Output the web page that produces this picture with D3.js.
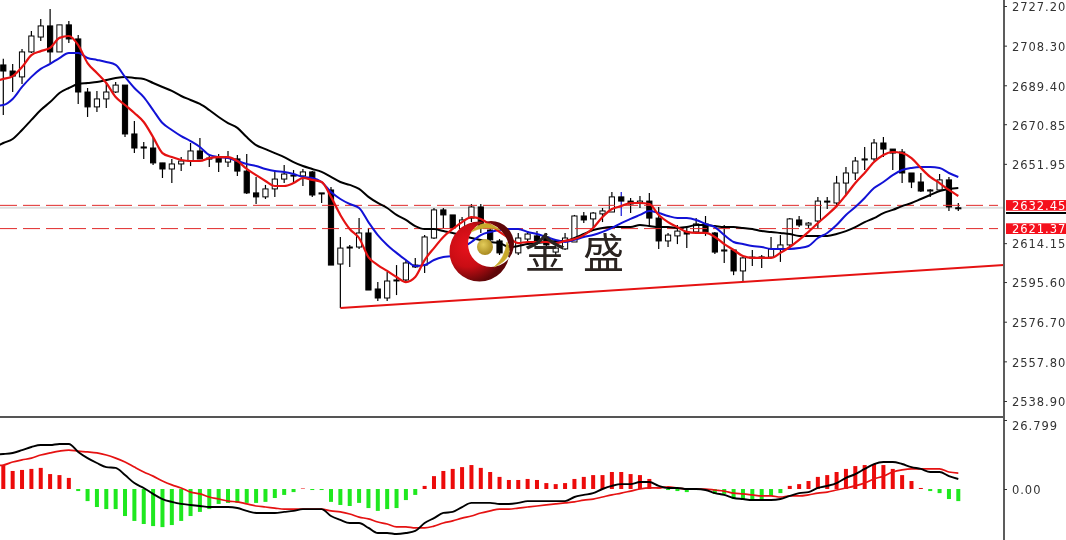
<!DOCTYPE html>
<html><head><meta charset="utf-8">
<style>html,body{margin:0;padding:0;background:#fff;overflow:hidden}svg{display:block;filter:blur(0.3px)}text{font-family:"DejaVu Sans",sans-serif}</style>
<script src="https://cdnjs.cloudflare.com/ajax/libs/d3/7.8.5/d3.min.js"></script>
</head><body><svg id="c" width="1066" height="540"></svg>
<script>
const opens=[2699.1,2696.2,2693.4,2705.3,2712.4,2717.7,2705.3,2718.2,2711.5,2686.2,
2679.1,2682.9,2686.2,2689.5,2666.2,2660.0,2659.5,2652.4,2649.5,2651.9,
2653.3,2658.1,2654.7,2654.7,2652.8,2654.3,2648.5,2638.1,2636.2,2640.0,
2644.7,2646.6,2646.2,2648.1,2638.1,2639.5,2604.2,2611.9,2612.3,2619.0,
2592.3,2588.0,2596.3,2596.6,2603.7,2603.7,2616.6,2630.0,2627.6,2620.9,
2626.1,2631.4,2620.4,2615.2,2609.5,2609.5,2616.1,2617.6,2617.1,2609.9,
2611.4,2614.7,2627.1,2625.7,2628.1,2629.0,2636.2,2634.2,2633.3,2634.2,
2626.1,2615.2,2617.6,2619.5,2619.5,2623.3,2619.0,2610.4,2610.9,2600.9,
2607.1,2607.3,2607.5,2611.4,2613.3,2625.2,2622.8,2624.7,2634.2,2633.3,
2642.8,2647.6,2653.8,2654.3,2661.9,2659.0,2657.6,2647.6,2643.3,2639.0,
2639.5,2644.3,2631.0];
const closes=[2696.2,2693.8,2705.3,2712.9,2717.7,2705.3,2718.2,2711.5,2686.2,2679.1,
2682.9,2686.2,2689.5,2666.2,2659.5,2659.5,2652.4,2649.5,2651.9,2653.3,
2658.1,2654.3,2654.3,2652.8,2654.7,2648.5,2638.1,2636.2,2640.0,2644.7,
2647.1,2646.2,2648.1,2637.1,2637.6,2603.7,2611.8,2612.3,2619.0,2591.8,
2588.0,2596.1,2596.6,2604.7,2602.8,2617.1,2630.0,2627.6,2621.4,2625.2,
2631.4,2621.4,2615.7,2609.5,2610.9,2616.6,2618.5,2615.2,2613.3,2611.8,
2616.6,2627.1,2625.2,2628.5,2629.5,2636.2,2634.2,2632.8,2634.2,2626.1,
2615.2,2618.0,2619.9,2618.5,2623.3,2619.5,2609.9,2610.9,2600.9,2607.1,
2607.5,2607.6,2611.4,2613.3,2625.7,2622.8,2623.7,2634.2,2633.8,2642.8,
2647.6,2653.3,2654.3,2661.9,2659.0,2657.1,2647.6,2643.3,2639.0,2639.5,
2644.3,2631.4,2630.7];
const highs=[2702.0,2699.6,2706.7,2715.3,2721.0,2725.8,2718.2,2720.0,2713.4,2688.1,
2686.7,2690.5,2691.0,2689.5,2672.4,2662.4,2664.7,2652.4,2654.3,2655.2,
2661.9,2664.3,2656.2,2656.7,2658.1,2656.2,2656.7,2645.7,2641.9,2648.1,
2651.4,2649.0,2649.5,2648.5,2638.1,2640.9,2617.1,2613.3,2626.1,2621.4,
2595.6,2600.4,2603.7,2606.1,2607.1,2618.0,2630.9,2630.9,2627.6,2626.6,
2632.8,2632.8,2621.4,2616.1,2613.3,2619.0,2619.9,2619.9,2619.0,2613.3,
2619.0,2627.6,2629.0,2629.0,2630.9,2638.5,2638.5,2635.7,2636.6,2638.1,
2631.4,2619.0,2622.8,2621.8,2626.1,2627.1,2619.5,2622.8,2611.4,2607.5,
2610.9,2608.5,2617.1,2618.0,2626.1,2627.1,2624.2,2636.2,2636.2,2646.2,
2650.4,2655.2,2660.0,2663.8,2664.7,2659.0,2659.0,2647.6,2647.6,2640.0,
2647.1,2645.7,2633.3];
const lows=[2675.2,2686.2,2690.0,2704.8,2710.5,2700.0,2705.3,2709.6,2680.5,2674.3,
2676.7,2678.6,2685.7,2664.7,2657.1,2654.3,2651.4,2645.2,2642.8,2648.5,
2650.9,2654.3,2650.4,2648.1,2650.4,2646.2,2637.6,2632.8,2635.2,2636.2,
2642.8,2642.8,2641.4,2636.2,2633.3,2603.7,2583.2,2602.8,2611.4,2591.8,
2586.6,2586.6,2589.4,2595.6,2602.3,2599.9,2616.1,2621.4,2621.4,2617.1,
2624.2,2619.0,2614.2,2608.5,2607.5,2608.5,2614.2,2613.3,2611.4,2608.0,
2610.9,2614.7,2623.7,2621.4,2624.2,2629.0,2627.1,2628.5,2630.9,2621.8,
2611.4,2612.3,2613.7,2611.8,2619.0,2617.6,2609.0,2604.7,2598.9,2595.6,
2603.2,2602.3,2607.1,2605.2,2612.3,2621.8,2621.4,2621.4,2630.4,2631.4,
2637.1,2644.3,2649.0,2653.3,2655.2,2649.0,2642.8,2640.4,2638.5,2636.2,
2638.5,2629.5,2629.5];
// Moving averages: the first value belongs to the bar just off the left edge.
const maFast=[2691.4,2692.4,2693.8,2698.1,2703.8,2705.7,2707.2,2712.0,2712.9,2708.6,2700.0,2695.3,2690.5,2683.8,2680.0,2676.2,2671.9,2664.7,2657.1,2655.2,2653.8,2653.3,2653.3,2654.7,2655.2,2655.2,2653.3,2649.5,2646.6,2643.8,2641.4,2641.4,2642.8,2645.2,2644.3,2643.3,2636.2,
2627.6,2620.9,2616.6,2607.5,2603.7,2600.9,2598.0,2595.6,2598.0,2606.1,2611.8,2617.1,2620.9,2624.2,2626.6,2625.7,2622.8,2619.5,2616.6,2614.2,2614.7,2614.7,2614.7,2614.2,2615.2,2616.1,2618.0,2621.4,2626.6,2630.4,2631.8,2633.3,
2633.3,2632.8,2627.6,2624.2,2621.8,2619.5,2619.0,2619.0,2617.1,2613.7,2610.9,2608.0,2607.1,2607.1,2607.1,2609.5,2612.3,2615.7,2619.5,2623.7,2627.6,2631.8,2637.1,2642.8,2647.6,2652.8,2656.2,2657.6,2657.1,2654.7,2650.0,2645.7,2642.8,2639.5,2636.6];
const maMid=[2679.5,2680.0,2682.9,2688.6,2693.4,2697.2,2699.6,2702.4,2704.8,2704.8,2702.4,2701.5,2700.5,2699.1,2693.4,2688.1,2683.8,2677.6,2671.4,2668.1,2665.2,2662.8,2660.0,2656.2,2655.2,2654.7,2653.3,2651.9,2650.9,2649.5,2648.5,2648.1,2647.1,2645.7,2645.2,2643.3,2638.5,
2635.2,2632.8,2630.9,2624.2,2618.0,2613.3,2609.5,2606.1,2603.2,2603.7,2606.1,2607.5,2608.0,2611.8,2614.7,2618.0,2619.5,2620.4,2620.9,2620.9,2619.5,2618.5,2617.1,2615.7,2614.7,2615.7,2617.1,2618.0,2619.5,2621.4,2623.7,2625.7,2627.6,2629.5,2628.5,2627.1,2626.1,2626.1,2625.2,2623.3,2621.8,2618.0,2614.7,2613.7,2612.8,2612.3,2611.4,2611.4,2611.4,2611.8,2612.8,2616.6,2619.0,2622.8,2627.6,2631.4,2635.7,2640.4,2643.3,2646.6,2649.0,2650.0,2650.4,2650.4,2650.0,2647.6,2645.7];
const maSlow=[2659.5,2661.9,2663.8,2668.1,2672.9,2677.6,2681.4,2685.7,2688.1,2690.0,2690.5,2691.0,2691.9,2692.9,2693.4,2692.9,2692.4,2690.5,2688.6,2686.7,2684.3,2682.4,2680.5,2677.6,2674.3,2671.4,2669.1,2664.7,2660.9,2659.0,2657.1,2655.2,2652.8,2650.9,2649.5,2648.1,2645.7,
2643.3,2641.9,2640.0,2636.2,2633.3,2630.9,2627.6,2625.2,2622.3,2620.9,2620.9,2619.9,2619.0,2618.0,2616.6,2615.7,2614.7,2614.2,2612.3,2612.8,2613.7,2614.2,2614.7,2615.2,2615.2,2616.6,2618.5,2620.4,2621.4,2621.8,2621.8,2621.8,2622.8,2622.3,2621.8,2621.8,2621.4,2621.8,2622.8,2622.8,2622.3,2621.8,2621.8,2621.4,2620.9,2619.9,2619.5,2619.0,2618.5,2617.6,2617.6,2617.6,2617.6,2618.5,2619.9,2621.8,2624.2,2626.1,2628.5,2630.0,2631.8,2633.3,2635.2,2637.1,2639.0,2640.0,2640.4];
const macdHist=[9.3,7.0,7.4,7.8,8.2,5.8,5.4,4.3,-0.8,-4.7,-7.0,-7.8,-7.8,-10.5,-12.4,-13.6,-14.4,-14.8,-14.0,-12.4,-10.5,-8.9,-7.8,-5.8,-5.4,-5.4,-5.4,-5.4,-5.0,-3.5,-2.3,-1.2,0.2,-0.4,-0.4,-5.0,-6.2,-6.6,-5.4,-7.4,-8.5,-7.8,-7.4,
-4.3,-2.3,1.2,5.0,7.0,7.8,8.5,9.3,8.2,6.6,4.7,3.5,3.5,3.9,3.5,2.3,1.9,2.3,3.9,4.7,5.4,5.4,6.6,6.6,5.8,5.4,3.9,
0.2,-0.4,-0.8,-1.2,-0.4,-0.4,-1.9,-1.9,-3.9,-3.9,-3.9,-3.9,-2.7,-1.6,1.2,1.9,3.1,4.7,5.4,6.6,7.8,8.9,9.3,9.7,9.3,7.8,5.4,3.1,0.4,-0.8,-1.6,-3.9,-4.7];
const macdLine=[13.4,13.6,14.0,15.1,16.3,17.1,17.1,17.5,17.5,14.4,12.0,10.1,8.5,8.2,5.4,2.3,0.4,-1.9,-3.9,-5.0,-5.8,-6.2,-6.6,-7.0,-7.0,-7.0,-7.4,-8.5,-9.3,-9.3,-9.3,-8.9,-8.5,-7.8,-7.8,-7.8,-10.5,-12.0,-13.2,-13.2,-15.1,-17.1,-17.1,-17.5,
-17.1,-16.3,-13.2,-11.3,-9.3,-8.9,-7.0,-5.4,-5.4,-5.4,-5.8,-5.8,-5.4,-4.7,-4.7,-4.7,-4.7,-4.7,-3.1,-2.3,-1.6,0,1.2,1.9,1.9,2.7,2.7,1.2,0.4,0.4,0,0,-0.4,-1.6,-2.3,-3.5,-3.9,-4.3,-4.3,-4.3,-3.9,-2.7,-1.6,-1.2,0.4,1.2,2.3,4.3,5.8,7.8,9.7,10.5,10.5,9.7,8.5,7.8,6.6,6.6,5.0,3.9];
const macdSignal=[9.0,9.3,10.5,11.3,12.0,13.2,14.0,14.7,15.1,14.7,14.4,14.0,13.2,12.0,10.5,8.5,6.6,5.0,3.1,1.6,0.4,-1.2,-1.9,-3.1,-3.9,-4.7,-5.0,-5.8,-6.6,-7.0,-7.4,-7.8,-7.8,-7.8,-7.8,-7.8,-8.5,-8.9,-9.7,-10.9,-11.6,-12.8,-13.6,-14.7,
-14.7,-15.1,-15.1,-14.4,-13.2,-12.4,-11.3,-10.5,-9.3,-8.5,-7.8,-7.8,-7.4,-7.0,-6.6,-6.2,-5.8,-5.4,-5.0,-4.3,-3.9,-3.1,-2.3,-1.6,-0.8,0,0.4,0.4,0.8,0.4,0,0,0,-0.4,-0.8,-1.6,-1.9,-2.3,-2.7,-2.7,-3.1,-2.7,-2.7,-2.3,-1.6,-1.2,-0.4,0.4,1.2,2.3,3.9,5.0,6.6,7.4,7.8,7.8,7.8,7.8,6.6,6.2];
const priceTicks=[2727.20,2708.30,2689.40,2670.85,2651.95,2614.15,2595.60,2576.70,2557.80,2538.90];
const levelValues=[2632.45,2621.37];
const bidValue=2631.0;
const trendIdx=[36,106.9], trendVal=[2583.2,2603.7];
const macdTicks=[26.799,0];
const blueWickBar=66;
const brandChars=["金","盛"];

const svg=d3.select("#c");
const axisX=1004;
const x=d3.scaleLinear().domain([0,102]).range([3.3,958.3]);
const y=d3.scaleLinear().domain([2727.2,2538.9]).range([6,401]);
const ym=d3.scaleLinear().domain([26.799,0]).range([420,489]);
const defs=svg.append("defs");
defs.append("clipPath").attr("id","top").append("rect").attr("x",0).attr("y",0).attr("width",axisX).attr("height",416);
defs.append("clipPath").attr("id","bot").append("rect").attr("x",0).attr("y",418).attr("width",axisX).attr("height",122);
const rg=defs.append("radialGradient").attr("id","moon").attr("gradientUnits","userSpaceOnUse")
 .attr("cx",468).attr("cy",246).attr("r",38);
rg.append("stop").attr("offset",0).attr("stop-color","#e8121c");
rg.append("stop").attr("offset",.55).attr("stop-color","#c90d14");
rg.append("stop").attr("offset",1).attr("stop-color","#5e0608");
const gg=defs.append("radialGradient").attr("id","gold").attr("cx",.4).attr("cy",.35).attr("r",.7);
gg.append("stop").attr("offset",0).attr("stop-color","#e3cc5a");
gg.append("stop").attr("offset",1).attr("stop-color","#a5861c");

const mainG=svg.append("g").attr("clip-path","url(#top)");
mainG.append("line").attr("x1",0).attr("x2",axisX).attr("y1",y(bidValue)).attr("y2",y(bidValue)).attr("stroke","#dedede").attr("stroke-width",2);
const idx=d3.range(opens.length);
mainG.append("g").selectAll("line").data(idx).join("line")
 .attr("x1",i=>x(i)).attr("x2",i=>x(i)).attr("y1",i=>y(highs[i])).attr("y2",i=>y(lows[i]))
 .attr("stroke",i=>i===blueWickBar?"#1414d8":"#000").attr("stroke-width",1.2);
mainG.append("g").selectAll("rect").data(idx).join("rect")
 .attr("x",i=>x(i)-2.6).attr("width",5.2)
 .attr("y",i=>y(Math.max(opens[i],closes[i])))
 .attr("height",i=>Math.max(1,Math.abs(y(opens[i])-y(closes[i]))))
 .attr("fill",i=>closes[i]>=opens[i]?"#fff":"#000")
 .attr("stroke","#000").attr("stroke-width",1);
mainG.append("g").selectAll("line").data(levelValues).join("line")
 .attr("x1",0).attr("x2",998).attr("y1",d=>y(d)+.6).attr("y2",d=>y(d)+.6)
 .attr("stroke","#e02a2a").attr("stroke-width",1).attr("stroke-dasharray","17,6");
const lineP=d3.line().x((d,i)=>x(i-1)).y(d=>y(d)).curve(d3.curveMonotoneX);
mainG.append("path").attr("d",lineP(maSlow)).attr("fill","none").attr("stroke","#000").attr("stroke-width",2);
mainG.append("path").attr("d",lineP(maMid)).attr("fill","none").attr("stroke","#1212d6").attr("stroke-width",2);
mainG.append("path").attr("d",lineP(maFast)).attr("fill","none").attr("stroke","#e51212").attr("stroke-width",2.2);
mainG.append("line").attr("x1",x(trendIdx[0])).attr("y1",y(trendVal[0])).attr("x2",x(trendIdx[1])).attr("y2",y(trendVal[1])).attr("stroke","#e51212").attr("stroke-width",2);
const moon=d3.path();
moon.arc(479.5,251.5,30,0,Math.PI*2);moon.closePath();
moon.moveTo(514,244);moon.arc(491,244,23,0,Math.PI*2);moon.closePath();
svg.append("path").attr("d",moon.toString()).attr("fill","url(#moon)").attr("fill-rule","evenodd");
svg.append("circle").attr("cx",485).attr("cy",247).attr("r",8).attr("fill","url(#gold)");
svg.append("path").attr("d","M471,232 Q484,216 500,230 Q485,225 471,232Z").attr("fill","#c8aa2a").attr("stroke","#c8aa2a").attr("stroke-width",.6);
svg.append("path").attr("d","M494,267 Q505,258 507,242 Q515,258 494,267Z").attr("fill","#c8aa2a").attr("stroke","#c8aa2a").attr("stroke-width",.6);
svg.append("g").selectAll("text").data(brandChars).join("text")
 .attr("x",(d,i)=>[545,603.5][i]).attr("y",267.5).attr("text-anchor","middle")
 .attr("font-size",41).attr("fill","#2a2320")
 .style("font-family",'"Noto Sans CJK SC",sans-serif').text(d=>d);

const botG=svg.append("g").attr("clip-path","url(#bot)");
botG.append("g").selectAll("rect").data(idx).join("rect")
 .attr("x",i=>x(i)-2).attr("width",4)
 .attr("y",i=>Math.min(ym(0),ym(macdHist[i])))
 .attr("height",i=>Math.abs(ym(macdHist[i])-ym(0)))
 .attr("fill",i=>macdHist[i]>=0?"#ec0b0b":"#1fe81f");
const lineM=d3.line().x((d,i)=>x(i-1)).y(d=>ym(d)).curve(d3.curveMonotoneX);
botG.append("path").attr("d",lineM(macdSignal)).attr("fill","none").attr("stroke","#e51212").attr("stroke-width",1.7);
botG.append("path").attr("d",lineM(macdLine)).attr("fill","none").attr("stroke","#000").attr("stroke-width",1.9);

svg.append("line").attr("x1",0).attr("x2",axisX+1).attr("y1",417).attr("y2",417).attr("stroke","#555").attr("stroke-width",2);
svg.append("line").attr("x1",axisX).attr("x2",axisX).attr("y1",0).attr("y2",540).attr("stroke","#5c5c5c").attr("stroke-width",2);

function styleAxis(g){
 g.select(".domain").remove();
 g.selectAll(".tick line").attr("stroke","#333").attr("stroke-width",1);
 g.selectAll(".tick text").attr("fill","#333").attr("dy","0.42em").style("font-family",'"DejaVu Sans",sans-serif').style("font-size","11.5px").style("letter-spacing","0.95px");
}
svg.append("g").attr("transform",`translate(${axisX},0)`)
 .call(d3.axisRight(y).tickValues(priceTicks).tickFormat(d3.format(".2f")).tickSize(3).tickPadding(5)).call(styleAxis);
const mAxis=svg.append("g").attr("transform",`translate(${axisX},0)`)
 .call(d3.axisRight(ym).tickValues(macdTicks).tickFormat(d=>d===0?"0.00":"26.799").tickSize(3).tickPadding(5)).call(styleAxis);
mAxis.selectAll(".tick text").filter(d=>d!==0).attr("dy","0.86em");

const tags=svg.append("g");
tags.append("rect").attr("x",1006).attr("y",212).attr("width",60).attr("height",2).attr("fill","#000");
tags.selectAll("rect.t").data(levelValues).join("rect").attr("class","t")
 .attr("x",1006).attr("width",60).attr("y",d=>y(d)-4.7).attr("height",10.7).attr("fill","#f5101c");
tags.selectAll("text").data(levelValues).join("text")
 .attr("x",1012).attr("y",d=>y(d)+5).attr("fill","#fff")
 .style("font-size","11.5px").style("letter-spacing","0.95px").text(d=>d.toFixed(2));
</script></body></html>
